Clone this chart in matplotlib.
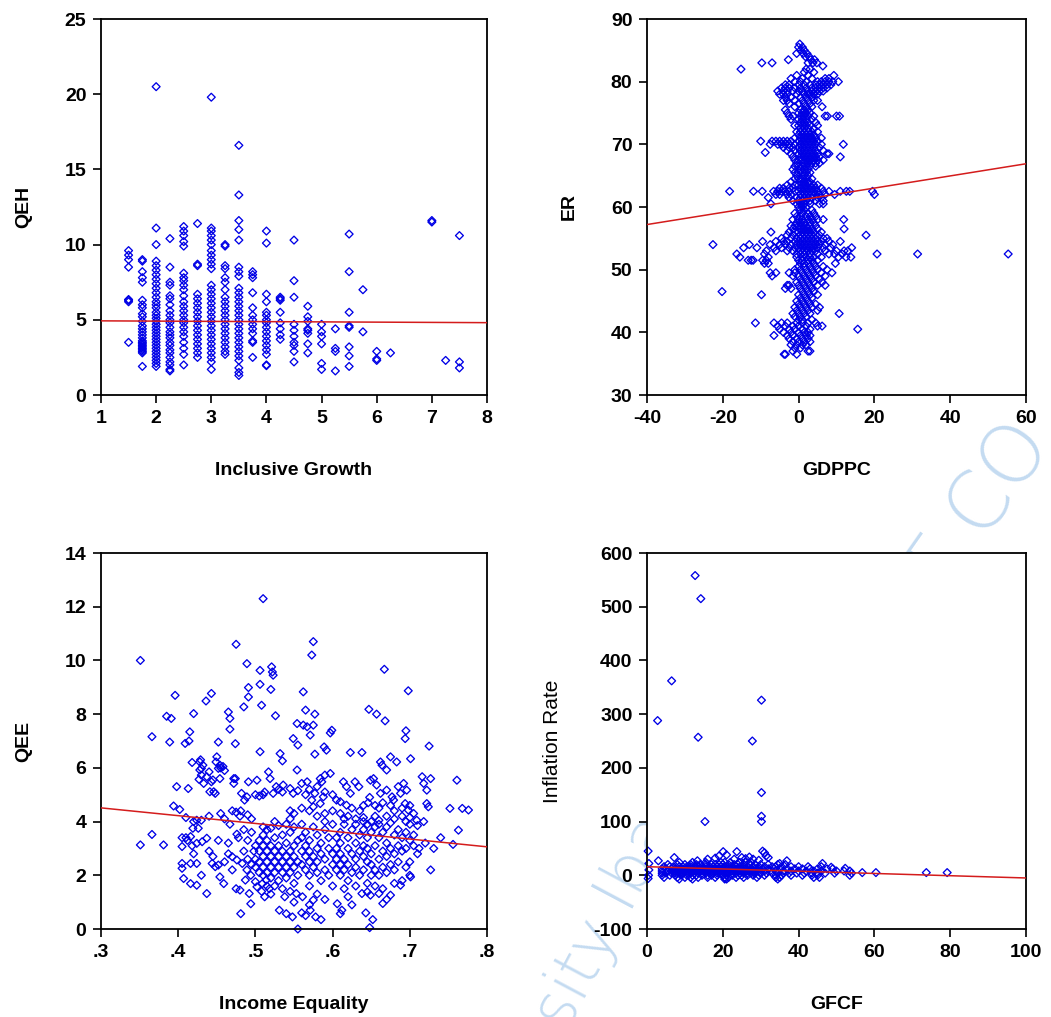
import matplotlib
matplotlib.use("Agg")
import matplotlib.pyplot as plt
from matplotlib.ticker import FuncFormatter

plt.rcParams["font.family"] = ["Liberation Sans", "DejaVu Sans"]
plt.rcParams["font.weight"] = "bold"
plt.rcParams["axes.unicode_minus"] = False

# ---- panel 1: Inclusive Growth vs QEH (values grouped by growth level) ----
ig_levels = [1.5, 1.75, 2, 2.25, 2.5, 2.75, 3, 3.25, 3.5, 3.75, 4, 4.25,
             4.5, 4.75, 5, 5.25, 5.5, 5.75, 6, 6.25, 7, 7.25, 7.5]
qeh_by_level = [
    [9.6, 9.3, 9.0, 8.5, 6.3, 6.2, 6.35, 3.5],
    [9.0, 8.9, 8.2, 7.8, 7.5, 6.3, 6.0, 5.8, 5.4, 5.2, 4.9, 4.6, 4.4, 4.2, 4.0,
     3.8, 3.6, 3.5, 3.4, 3.3, 3.2, 3.1, 3.0, 2.9, 2.8, 1.9],
    [20.5, 11.1, 10.0, 8.9, 8.6, 8.3, 8.0, 7.7, 7.4, 7.1, 6.8, 6.5, 6.2, 6.0, 5.8,
     5.5, 5.3, 5.1, 4.9, 4.7, 4.5, 4.3, 4.1, 3.9, 3.7, 3.5, 3.3, 3.1, 2.9, 2.7,
     2.5, 2.3, 2.1, 1.9],
    [10.4, 8.5, 7.5, 7.3, 6.6, 6.4, 6.0, 5.6, 5.3, 5.0, 4.8, 4.5, 4.2, 4.0, 3.8,
     3.5, 3.3, 3.0, 2.8, 2.5, 2.2, 2.0, 1.7, 1.6],
    [11.2, 10.9, 10.6, 10.2, 9.9, 8.1, 7.8, 7.6, 7.3, 7.0, 6.6, 6.2, 5.9, 5.6, 5.3,
     5.0, 4.8, 4.5, 4.2, 3.9, 3.5, 3.1, 2.7, 2.0],
    [11.4, 8.7, 8.6, 6.7, 6.4, 6.1, 5.8, 5.5, 5.2, 4.9, 4.6, 4.3, 4.0, 3.7, 3.4,
     3.1, 2.8, 2.5],
    [19.8, 11.1, 10.9, 10.6, 10.3, 10.0, 9.6, 9.3, 9.0, 8.7, 8.4, 7.3, 7.0, 6.7,
     6.4, 6.1, 5.8, 5.5, 5.2, 4.9, 4.6, 4.3, 4.0, 3.7, 3.4, 3.1, 2.8, 2.5, 2.2, 1.7],
    [10.0, 9.9, 8.6, 8.4, 7.8, 7.5, 7.0, 6.5, 6.2, 5.9, 5.6, 5.3, 5.0, 4.7, 4.4,
     4.1, 3.8, 3.5, 3.2, 2.9, 2.7],
    [16.6, 13.3, 11.6, 11.0, 10.3, 8.5, 8.2, 7.9, 7.1, 6.8, 6.5, 6.2, 5.9, 5.6,
     5.3, 5.0, 4.7, 4.4, 4.1, 3.8, 3.5, 3.2, 2.9, 2.6, 2.3, 1.8, 1.5, 1.3],
    [8.2, 8.0, 7.8, 6.8, 5.8, 5.3, 5.0, 4.7, 4.4, 4.1, 3.6, 3.5, 2.5],
    [10.9, 10.1, 6.7, 6.2, 5.5, 5.3, 5.0, 4.8, 4.5, 4.2, 3.9, 3.6, 3.3, 3.0, 2.7,
     2.0, 1.95],
    [6.5, 6.4, 6.3, 5.5, 4.8, 4.4, 4.0, 3.7],
    [10.3, 7.6, 6.5, 4.7, 4.3, 3.9, 3.5, 3.3, 2.9, 2.2],
    [5.9, 5.2, 4.9, 4.4, 4.3, 4.1, 3.4, 2.8],
    [4.7, 4.2, 3.9, 3.4, 2.1, 1.7],
    [4.4, 3.1, 2.9, 1.6],
    [10.7, 8.2, 5.5, 4.6, 4.5, 3.2, 2.6, 1.9],
    [7.0, 4.2],
    [2.9, 2.4, 2.3],
    [2.8],
    [11.6, 11.5],
    [2.3],
    [10.6, 2.2, 1.8],
]
qeh_fit_x = [1, 8]
qeh_fit_y = [4.93, 4.81]

# ---- panel 2: GDPPC vs ER (rows of GDPPC values at each ER level) ----
er_rows = [
    (86.0, [0.3]),
    (85.5, [0.0, 1.0]),
    (85.0, [0.5, 1.5]),
    (84.5, [-0.5, 1.2, 2.2]),
    (84.0, [1.8, 2.8]),
    (83.5, [-2.7, 3.2, 4.2]),
    (83.0, [-9.7, -7.0, 2.5, 3.8, 4.8]),
    (82.5, [6.4]),
    (82.0, [-15.2, 2.0, 3.0]),
    (81.5, [1.5, 4.0]),
    (81.0, [-0.5, 2.5, 9.3]),
    (80.5, [-2.0, 1.0, 3.5, 7.0, 8.0]),
    (80.0, [-1.0, 0.5, 2.0, 5.0, 6.0, 7.0, 8.0, 9.0, 10.5]),
    (79.5, [-3.5, -2.5, 0.0, 1.5, 3.0, 4.5, 5.5, 6.5, 7.5, 8.5]),
    (79.0, [-4.5, -3.5, -2.5, -1.0, 0.5, 2.0, 3.5, 4.5, 5.5, 6.5, 7.5]),
    (78.5, [-5.5, -4.0, -3.0, -1.5, 0.0, 1.0, 2.5, 3.5, 4.5, 5.5, 6.5]),
    (78.0, [-5.0, -4.0, -3.0, -0.5, 1.5, 2.5, 3.0, 4.0, 5.0]),
    (77.5, [-3.5, -2.0, 0.5, 2.0, 3.5]),
    (77.0, [-4.0, -3.0, -1.0, 1.0, 2.5, 4.0, 5.0]),
    (76.5, [-2.5, 0.0, 1.5, 3.0]),
    (76.0, [-1.0, 2.0, 3.5, 6.2]),
    (75.5, [-3.5, 0.5, 1.5, 2.5]),
    (75.0, [-3.0, 0.0, 1.0, 2.0, 3.0]),
    (74.5, [-2.5, -1.5, 0.5, 1.5, 2.5, 4.0, 7.0, 7.6, 10.0, 10.8]),
    (74.0, [-2.0, 0.0, 1.0, 2.0, 3.5]),
    (73.5, [0.5, 1.5, 2.5, 4.5]),
    (73.0, [-1.0, 0.0, 1.0, 2.0, 3.0, 5.0]),
    (72.5, [0.5, 1.5, 2.5, 4.0]),
    (72.0, [-0.5, 0.5, 1.5, 2.5, 3.5, 5.0]),
    (71.5, [0.0, 1.0, 2.0, 3.0, 4.0]),
    (71.0, [-1.0, 0.5, 1.5, 2.5, 3.5, 4.5, 6.0]),
    (70.5, [-10.0, -7.0, -6.0, -5.0, -4.0, -3.0, -2.0, 0.0, 1.0, 2.0, 3.0, 4.0, 5.0]),
    (70.0, [-7.5, -5.5, -4.5, -3.5, -2.5, -1.0, 0.5, 1.5, 2.5, 3.5, 4.5, 6.0, 11.8]),
    (69.5, [-4.0, -2.5, -1.5, 0.0, 1.0, 2.0, 3.0, 4.0, 5.5]),
    (69.0, [-3.0, -1.0, 0.5, 1.5, 2.5, 3.5, 4.5, 6.5]),
    (68.7, [-8.8]),
    (68.5, [-2.0, 0.0, 1.0, 2.0, 3.0, 4.0, 5.0, 7.5, 8.0]),
    (68.0, [-1.5, 0.5, 1.5, 2.5, 3.5, 4.5, 5.5, 11.0]),
    (67.5, [-1.0, 0.0, 1.0, 2.0, 3.0, 4.0, 5.0, 6.5]),
    (67.0, [-0.5, 1.5, 2.5, 3.5, 4.5, 5.5]),
    (66.5, [-1.0, 0.0, 1.0, 2.0, 3.0, 4.5]),
    (66.0, [-1.5, 0.5, 1.5, 2.5]),
    (65.5, [-1.0, 0.0, 1.0, 2.0, 3.0]),
    (65.0, [-0.5, 1.5, 2.5]),
    (64.5, [-1.0, 0.0, 1.0, 2.0, 3.5]),
    (64.0, [-2.0, 0.5, 1.5, 2.5, 3.0]),
    (63.5, [-3.0, -1.0, 0.0, 1.0, 2.0, 3.0, 4.0, 5.0]),
    (63.0, [-5.0, -4.0, -2.5, -1.5, 0.5, 1.5, 2.5, 3.5, 4.5, 6.0]),
    (62.5, [-18.2, -11.9, -9.6, -6.6, -5.5, -4.5, -3.5, -2.5, -1.0, 0.0, 1.0,
            2.0, 3.0, 4.0, 5.0, 6.5, 8.0, 11.0, 12.6, 13.5, 19.5]),
    (62.0, [-6.0, -5.0, -3.0, -2.0, 0.5, 1.5, 2.5, 3.5, 4.5, 5.5, 7.0, 9.5, 20.0]),
    (61.5, [-8.0, -2.5, -0.5, 0.5, 1.5, 2.5, 3.5, 5.0, 6.0]),
    (61.0, [-1.5, 0.0, 1.0, 2.0, 3.0, 4.5, 6.5]),
    (60.5, [-7.3, -0.5, 0.5, 1.5, 3.0, 5.5, 6.5]),
    (60.0, [0.0, 1.0, 2.0]),
    (59.5, [0.5, 1.5, 3.5]),
    (59.0, [-1.0, 1.0, 2.5, 4.0]),
    (58.5, [-0.5, 0.5, 2.0, 3.0, 4.5]),
    (58.0, [-1.5, 0.0, 1.0, 2.5, 3.5, 5.0, 6.5, 11.9]),
    (57.5, [-0.5, 0.5, 1.5, 3.0, 4.0]),
    (57.0, [-2.0, -1.0, 0.0, 1.0, 2.0, 3.0, 4.5]),
    (56.5, [-1.5, 0.5, 1.5, 2.5, 3.5, 5.0, 12.0]),
    (56.0, [-7.3, -2.5, -1.0, 0.0, 1.0, 2.0, 3.0, 4.0, 6.0]),
    (55.5, [-3.0, -1.5, 0.5, 1.5, 2.5, 3.5, 4.5, 5.5, 17.8]),
    (55.0, [-4.5, -2.0, -0.5, 0.5, 1.5, 2.5, 3.5, 4.5, 6.5, 7.5]),
    (54.5, [-9.5, -6.0, -4.0, -3.0, -1.0, 0.0, 1.0, 2.0, 3.0, 4.0, 5.0, 6.0, 8.0, 11.0]),
    (54.0, [-22.6, -13.0, -7.5, -5.0, -3.5, -2.0, -0.5, 0.5, 1.5, 2.5, 3.5, 4.5,
            5.5, 7.0, 9.0]),
    (53.5, [-14.5, -11.0, -6.5, -4.5, -2.5, -1.0, 0.0, 1.0, 2.0, 3.0, 4.0, 5.0,
            6.5, 8.5, 14.0]),
    (53.0, [-8.5, -6.0, -3.0, -1.5, 0.5, 1.5, 2.5, 3.5, 4.5, 7.0, 10.0, 12.0, 13.0]),
    (52.5, [-16.3, -9.0, -0.5, 0.5, 1.5, 3.0, 5.0, 8.0, 9.5, 11.5, 20.7, 31.4, 55.3]),
    (52.0, [-15.5, -8.0, -0.5, 1.0, 2.0, 3.0, 4.0, 6.0, 10.5, 12.5, 13.8]),
    (51.5, [-13.3, -12.5, -12.0, -9.5, -8.5, 0.0, 1.0, 2.5, 3.5, 5.0]),
    (51.0, [-9.0, -8.0, 0.5, 1.5, 2.5, 4.0, 9.7]),
    (50.5, [0.0, 1.5, 3.0, 4.5, 6.5]),
    (50.0, [-1.0, 0.5, 2.0, 3.5, 5.0, 7.5]),
    (49.5, [-7.5, -6.0, -2.5, -1.0, 1.0, 2.5, 4.0, 6.0, 8.8]),
    (49.0, [-7.0, -1.5, 0.0, 1.5, 3.0, 4.5, 7.0]),
    (48.5, [0.5, 2.0, 3.5, 5.5]),
    (48.0, [-0.5, 1.0, 2.5, 4.0, 6.2]),
    (47.5, [-3.0, -2.5, 0.0, 1.5, 3.0, 5.0, 7.0]),
    (47.0, [-3.5, -2.0, 0.5, 2.0, 3.5]),
    (46.5, [-20.2, 1.0, 2.5, 4.0]),
    (46.0, [-9.8, 0.0, 1.5, 3.0, 5.0]),
    (45.5, [0.5, 2.0, 3.5]),
    (45.0, [-0.5, 1.0, 2.5]),
    (44.5, [0.0, 1.5, 3.0, 4.5]),
    (44.0, [-1.0, 0.5, 2.0, 3.5, 5.5]),
    (43.5, [-0.5, 1.0, 2.5, 5.0]),
    (43.0, [-1.5, 0.0, 1.5, 3.0, 10.7]),
    (42.5, [-1.0, 0.5, 2.0]),
    (42.0, [0.0, 1.0, 3.5]),
    (41.5, [-11.4, -6.5, -4.5, -3.0, -0.5, 1.0, 2.5, 4.5]),
    (41.0, [-5.5, -3.5, -1.5, 0.0, 2.0, 5.0, 6.2]),
    (40.5, [-5.0, -2.5, -1.0, 1.0, 3.0, 15.6]),
    (40.0, [-4.0, -2.0, 0.0, 1.5, 2.5]),
    (39.5, [-6.5, -3.0, -1.5, 0.5, 2.0, 3.0]),
    (39.0, [-2.5, -0.5, 1.0, 2.5]),
    (38.5, [-1.5, 0.0, 1.5, 3.0]),
    (38.0, [-2.0, -0.5, 1.0, 2.0]),
    (37.5, [-1.0, 0.5]),
    (37.0, [-1.5, 2.5, 3.0]),
    (36.5, [-3.8, -3.5, -0.5]),
]
er_fit_x = [-40, 60]
er_fit_y = [57.2, 66.9]

# ---- panel 3: Income Equality vs QEE ----
ie_qee = [
    (.510, 12.3), (.475, 10.6), (.575, 10.7), (.573, 10.2), (.351, 10.0), (.667, 9.67),
    (.489, 9.88), (.506, 9.63), (.521, 9.76), (.522, 9.57), (.523, 9.45), (.506, 9.11),
    (.491, 8.99), (.491, 8.64), (.520, 8.92), (.698, 8.87), (.396, 8.7), (.443, 8.77),
    (.436, 8.49), (.562, 8.83), (.508, 8.33), (.485, 8.27), (.385, 7.92), (.391, 7.84),
    (.420, 8.02), (.465, 8.08), (.467, 7.84), (.526, 7.94), (.565, 8.15), (.577, 8.0),
    (.647, 8.18), (.657, 8.0), (.668, 7.75), (.366, 7.16), (.389, 6.96), (.415, 7.34),
    (.409, 6.91), (.414, 7.0), (.467, 7.44), (.474, 6.9), (.452, 6.96), (.549, 7.09),
    (.555, 6.85), (.554, 7.65), (.562, 7.59), (.567, 7.53), (.575, 7.59), (.571, 7.22),
    (.599, 7.4), (.597, 7.3), (.695, 7.38), (.694, 7.09), (.725, 6.81), (.506, 6.6),
    (.532, 6.53), (.535, 6.26), (.577, 6.51), (.589, 6.78), (.592, 6.66), (.623, 6.57),
    (.638, 6.57), (.662, 6.22), (.664, 6.1), (.675, 6.41), (.683, 6.22), (.701, 6.34),
    (.670, 5.92),
    (.418, 6.2), (.428, 6.22), (.430, 5.98), (.398, 5.30), (.413, 5.23), (.402, 4.45),
    (.394, 4.58), (.428, 5.92), (.430, 5.73), (.427, 5.57), (.433, 5.42), (.437, 5.67),
    (.432, 6.1), (.429, 6.3), (.443, 5.48), (.441, 5.11), (.446, 5.11), (.448, 5.05),
    (.450, 6.41), (.449, 6.22), (.454, 6.1), (.452, 5.98), (.454, 5.6), (.455, 6.0),
    (.458, 6.05), (.460, 5.9), (.445, 5.55), (.440, 5.85), (.472, 5.6), (.474, 5.6),
    (.472, 5.42), (.491, 5.48), (.502, 5.54), (.482, 5.05), (.489, 4.92), (.486, 4.8),
    (.517, 5.85), (.519, 5.6), (.527, 5.3), (.523, 5.05), (.536, 5.36), (.545, 5.23),
    (.549, 5.05), (.554, 5.92), (.560, 5.42), (.567, 5.48), (.577, 5.05), (.573, 4.8),
    (.584, 5.6), (.586, 5.48), (.590, 5.73), (.597, 5.79), (.588, 4.92), (.584, 4.67),
    (.614, 5.48), (.618, 5.3), (.623, 5.05), (.629, 5.48), (.634, 5.3), (.610, 4.74),
    (.618, 4.61), (.649, 5.54), (.653, 5.6), (.657, 5.36), (.662, 5.05), (.648, 4.9),
    (.655, 4.6), (.646, 4.7), (.670, 5.17), (.677, 4.92), (.679, 4.8), (.685, 5.3),
    (.688, 5.05), (.692, 5.42), (.696, 5.17), (.694, 4.67), (.698, 4.43), (.716, 5.67),
    (.718, 5.42), (.722, 5.17), (.722, 4.67), (.724, 4.55), (.727, 5.6), (.752, 4.49),
    (.761, 5.54), (.768, 4.49), (.776, 4.43), (.763, 3.68), (.731, 3.0), (.712, 3.0),
    (.727, 2.2), (.740, 3.4), (.756, 3.15), (.718, 4.0), (.709, 4.05),
    (.500, 5.0), (.505, 4.95), (.510, 5.0), (.512, 5.1), (.530, 5.2), (.535, 5.1),
    (.555, 5.15), (.565, 5.0), (.570, 5.2), (.580, 5.3), (.590, 5.1), (.600, 5.0),
    (.605, 4.8), (.625, 4.5), (.635, 4.4), (.640, 4.6), (.660, 4.5), (.665, 4.7),
    (.675, 4.6), (.680, 4.4), (.690, 4.5), (.700, 4.6), (.705, 4.3), (.470, 4.4),
    (.475, 4.35), (.480, 4.2), (.490, 4.25), (.495, 4.1), (.460, 4.1), (.455, 4.3),
    (.440, 4.2), (.430, 4.05), (.420, 4.0), (.410, 4.15), (.545, 4.4), (.550, 4.3),
    (.560, 4.5), (.570, 4.4), (.575, 4.55), (.580, 4.2), (.590, 4.3), (.600, 4.4),
    (.610, 4.3), (.615, 4.1), (.620, 4.2), (.630, 4.1), (.640, 4.15), (.650, 4.0),
    (.655, 4.2), (.660, 4.05), (.670, 4.2), (.675, 3.95), (.680, 4.1), (.690, 4.2),
    (.695, 4.0), (.700, 3.9), (.700, 4.15), (.710, 3.85),
    (.366, 3.52), (.351, 3.13), (.381, 3.13), (.416, 3.44), (.424, 3.19), (.431, 3.25),
    (.437, 3.38), (.405, 3.07), (.419, 3.75), (.426, 3.75), (.424, 4.05), (.405, 2.44),
    (.405, 2.26), (.416, 2.44), (.424, 2.44), (.407, 1.88), (.416, 1.69), (.424, 1.63),
    (.437, 1.32), (.444, 2.44), (.448, 2.32), (.452, 2.38), (.454, 1.94), (.459, 1.69),
    (.452, 3.3), (.440, 2.9), (.445, 2.7), (.430, 2.0), (.420, 2.8), (.410, 3.4),
    (.405, 3.4), (.412, 3.3), (.418, 3.1),
    (.465, 2.8), (.470, 2.69), (.476, 2.57), (.483, 2.44), (.489, 2.2), (.494, 2.0),
    (.487, 1.82), (.500, 1.76), (.476, 3.53), (.478, 3.4), (.467, 3.9), (.481, 4.4),
    (.492, 1.32), (.481, 0.57), (.494, 0.94), (.470, 2.2), (.475, 1.5), (.480, 1.45),
    (.485, 2.9), (.490, 2.6), (.495, 2.4), (.460, 2.5), (.465, 3.2), (.490, 3.3),
    (.495, 3.6), (.485, 3.7), (.498, 2.9), (.500, 3.1),
    (.502, 1.57), (.509, 1.69), (.514, 1.82), (.518, 1.5), (.531, 0.70), (.540, 0.57),
    (.548, 0.45), (.553, 1.32), (.561, 1.2),
    (.505, 2.1), (.505, 2.5), (.505, 2.9), (.505, 3.3), (.510, 2.3), (.510, 2.7),
    (.510, 3.1), (.510, 3.5), (.510, 2.0), (.515, 2.1), (.515, 2.5), (.515, 2.9),
    (.515, 3.3), (.515, 3.7), (.520, 2.3), (.520, 2.7), (.520, 3.1), (.520, 1.9),
    (.525, 2.1), (.525, 2.5), (.525, 2.9), (.525, 3.4), (.530, 2.3), (.530, 2.7),
    (.530, 3.1), (.530, 1.8), (.535, 2.5), (.535, 2.9), (.535, 2.1), (.535, 3.5),
    (.540, 2.3), (.540, 2.7), (.540, 3.2), (.540, 1.9), (.545, 2.5), (.545, 2.9),
    (.545, 2.1), (.545, 3.6), (.550, 2.3), (.550, 2.7), (.550, 3.1), (.550, 1.7),
    (.555, 2.5), (.555, 2.0), (.555, 3.3), (.500, 2.3), (.500, 2.6), (.508, 1.4),
    (.512, 1.2), (.515, 1.6), (.520, 1.3), (.525, 1.6), (.535, 1.5), (.538, 1.2),
    (.545, 1.4), (.550, 1.0), (.560, 0.6), (.565, 0.5), (.555, 0.0), (.510, 3.8),
    (.520, 3.75), (.530, 3.85), (.540, 3.9), (.550, 3.8), (.525, 4.0), (.545, 4.1),
    (.560, 3.9),
    (.560, 2.9), (.560, 2.4), (.560, 3.4), (.565, 2.2), (.565, 2.7), (.565, 3.1),
    (.565, 3.6), (.570, 2.0), (.570, 2.5), (.570, 2.9), (.570, 3.3), (.570, 1.6),
    (.575, 2.3), (.575, 2.7), (.575, 3.8), (.580, 2.1), (.580, 2.5), (.580, 3.0),
    (.580, 3.5), (.585, 1.8), (.585, 2.8), (.585, 3.2), (.590, 2.2), (.590, 2.6),
    (.590, 3.7), (.590, 4.0), (.595, 2.0), (.595, 3.0), (.595, 3.4), (.600, 2.4),
    (.600, 2.8), (.600, 3.9), (.600, 1.6), (.575, 1.08), (.571, 0.7), (.578, 0.45),
    (.580, 1.3), (.570, 0.9), (.585, 0.35), (.590, 1.1),
    (.606, 0.94), (.612, 0.70), (.610, 0.57), (.605, 2.2), (.605, 2.6), (.605, 3.0),
    (.605, 3.4), (.610, 2.0), (.610, 2.4), (.610, 2.8), (.610, 3.2), (.610, 3.6),
    (.615, 2.2), (.615, 2.6), (.615, 3.9), (.620, 1.8), (.620, 2.4), (.620, 3.0),
    (.620, 3.4), (.625, 2.1), (.625, 2.8), (.625, 3.7), (.630, 2.3), (.630, 2.6),
    (.630, 3.2), (.630, 3.9), (.635, 2.0), (.635, 2.9), (.635, 3.5), (.640, 2.2),
    (.640, 2.7), (.640, 3.1), (.640, 3.7), (.640, 4.0), (.645, 1.7), (.645, 2.5),
    (.645, 3.0), (.645, 3.4), (.645, 3.9), (.650, 2.0), (.650, 2.4), (.650, 2.8),
    (.650, 3.6), (.638, 1.32), (.645, 1.38), (.649, 1.26), (.660, 1.32), (.643, 0.60),
    (.652, 0.35), (.648, 0.05), (.620, 1.2), (.615, 1.5), (.630, 1.6), (.625, 0.9),
    (.655, 2.2), (.655, 3.1), (.655, 3.8), (.660, 2.0), (.660, 2.6), (.660, 3.4),
    (.660, 3.9), (.665, 2.3), (.665, 2.9), (.665, 3.6), (.670, 2.1), (.670, 2.7),
    (.670, 3.2), (.670, 3.8), (.675, 2.4), (.675, 3.0), (.675, 1.26), (.680, 2.2),
    (.680, 2.8), (.680, 3.5), (.680, 1.7), (.685, 3.1), (.685, 3.7), (.685, 2.5),
    (.688, 1.63), (.690, 2.9), (.690, 3.4), (.695, 2.3), (.695, 3.0), (.695, 3.6),
    (.700, 3.3), (.700, 2.5), (.701, 1.94), (.705, 3.1), (.705, 3.5), (.710, 2.8),
    (.720, 3.2), (.665, 1.5), (.670, 1.1), (.665, 0.95), (.655, 1.6), (.690, 1.8),
    (.700, 2.0),
]
qee_fit_x = [.3, .8]
qee_fit_y = [4.51, 3.06]

# ---- panel 4: GFCF vs Inflation Rate ----
infl_rows = [
    (24, [8.5, 12, 15.5, 19.5, 20.5, 22, 24.5, 26, 27.5]),
    (20, [5.5, 8, 10, 11.5, 13, 14, 15.5, 17, 18, 19, 20, 21.5, 23, 24, 25.5, 27,
          28.5, 30, 32, 34.5, 36.5]),
    (16, [4.5, 6, 7, 8.5, 9.5, 10.5, 11.5, 12.5, 13.5, 14.5, 15.5, 16.5, 17.5, 18.5,
          19.5, 20.5, 21.5, 22.5, 23.5, 24.5, 25.5, 26.5, 28, 29.5, 31, 33, 34, 35.5,
          38, 40, 42.5, 46]),
    (12, [4, 5, 6.5, 7.5, 8.5, 9.5, 10.5, 11.5, 12.5, 13.5, 14.5, 15.5, 16.5, 17.5,
          18.5, 19.5, 20.5, 21.5, 22.5, 23.5, 24.5, 25.5, 26.5, 27.5, 28.5, 29.5, 30.5,
          32, 33.5, 35, 37, 39, 41, 43, 45, 47.5, 49]),
    (8, [4, 5.5, 6.5, 7.5, 8.5, 9.5, 10.5, 11.5, 12.5, 13.5, 14.5, 15.5, 16.5, 17.5,
         18.5, 19.5, 20.5, 21.5, 22.5, 23.5, 24.5, 25.5, 26.5, 27.5, 28.5, 29.5, 31,
         32.5, 34, 36, 38, 40, 42, 44, 46, 50, 52]),
    (4, [4, 5, 6.5, 7.5, 8.5, 9.5, 10.5, 11.5, 12.5, 13.5, 14.5, 15.5, 16.5, 17.5,
         18.5, 19.5, 20.5, 21.5, 22.5, 23.5, 24.5, 25.5, 26.5, 27.5, 28.5, 30, 31.5,
         33, 34.5, 36, 37.5, 39.5, 41.5, 43.5, 45, 47, 49.5, 54]),
    (0, [4, 6, 7.5, 9, 10.5, 12, 13, 14.5, 16, 17, 18.5, 20, 21, 22.5, 24, 25, 26.5,
         28, 29.5, 31, 34, 35.5, 38, 41, 43.5, 45, 53.5]),
    (-4, [4.5, 8, 10, 11.5, 13.5, 16, 18, 20.5, 21.5, 23.5, 25.5, 29, 34, 35, 44, 45.5]),
    (-7, [8.5, 12, 20.5, 21, 34.5]),
]
gfcf_infl_extra = [
    (0.3, 45), (0.5, 22), (0.5, 10), (0.4, 0), (0.3, -6), (3, 27), (7.2, 33),
    (13.3, 27), (16, 30), (18, 32), (19, 36), (20.1, 44), (21, 38), (23.7, 44),
    (23, 30), (25, 33), (26, 31), (27, 34), (28, 30), (30.5, 45), (31, 42),
    (31.4, 36), (32, 33), (29.5, 28), (36.9, 27), (35, 22), (46.3, 22), (48.6, 15),
    (52.3, 13), (53.5, 8), (56.8, 5), (60.4, 5), (73.7, 5), (79.2, 5),
    (12.7, 558), (14.2, 515), (6.5, 362), (2.8, 288), (13.5, 257), (30.2, 326),
    (27.8, 250), (30.2, 154), (30.2, 110), (30.2, 100), (15.3, 100),
]
infl_fit_x = [0, 100]
infl_fit_y = [16, -5]

BLUE = "#0000e6"
RED = "#d41c1c"
W, H = 1051, 1017


def _axes(fig, left, top, right, bottom):
    return fig.add_axes([left / W, 1 - bottom / H, (right - left) / W, (bottom - top) / H])


def _style(ax, xlim, ylim, xticks, yticks, xlabel, ylabel, ylab_off=77.5, ylab_weight="bold"):
    ax.set_xlim(*xlim)
    ax.set_ylim(*ylim)
    ax.set_xticks(xticks)
    ax.set_yticks(yticks)
    for s in ax.spines.values():
        s.set_linewidth(1.3)
    ax.tick_params(direction="out", length=5.5, width=1.2, labelsize=14, pad=5,
                   top=False, right=False)
    bb = ax.get_position()
    ax.set_xlabel(xlabel, fontsize=14, fontweight="bold")
    ax.xaxis.set_label_coords(0.5, -67 / (bb.height * H))
    ax.set_ylabel(ylabel, fontsize=14, fontweight=ylab_weight, va="center")
    ax.yaxis.set_label_coords(-ylab_off / (bb.width * W), 0.5)


def _scatter(ax, x, y, fx, fy):
    ax.scatter(x, y, marker="D", s=16, facecolors="none", edgecolors=BLUE,
               linewidths=0.95, zorder=2, clip_on=False)
    ax.plot(fx, fy, color=RED, lw=1.1, zorder=3)


fig = plt.figure(figsize=(W / 100, H / 100), dpi=100)
fig.patch.set_facecolor("white")

# faint watermark behind the panels
wm = dict(color="#c4dbf1", fontweight="light", family="DejaVu Sans",
          rotation_mode="anchor", va="baseline", zorder=-5)
fig.text(676 / W, 1 - 828 / H, "rsity Iba", rotation=62, ha="right", fontsize=46, **wm)
fig.text(905 / W, 1 - 655 / H, "OT CO", rotation=55, ha="left", fontsize=58, **wm)

ax1 = _axes(fig, 101, 19, 487, 395)
ax2 = _axes(fig, 647, 19, 1026, 395)
ax3 = _axes(fig, 101, 553, 487, 929)
ax4 = _axes(fig, 647, 553, 1026, 929)

# panel 1
x1 = [lv for lv, ys in zip(ig_levels, qeh_by_level) for _ in ys]
y1 = [v for ys in qeh_by_level for v in ys]
_scatter(ax1, x1, y1, qeh_fit_x, qeh_fit_y)
_style(ax1, (1, 8), (0, 25), range(1, 9), range(0, 26, 5), "Inclusive Growth", "QEH")

# panel 2
x2 = [x for y, xs in er_rows for x in xs]
y2 = [y for y, xs in er_rows for _ in xs]
_scatter(ax2, x2, y2, er_fit_x, er_fit_y)
_style(ax2, (-40, 60), (30, 90), range(-40, 61, 20), range(30, 91, 10), "GDPPC", "ER")

# panel 3
x3 = [p[0] for p in ie_qee]
y3 = [p[1] for p in ie_qee]
_scatter(ax3, x3, y3, qee_fit_x, qee_fit_y)
_style(ax3, (.3, .8), (0, 14), [.3, .4, .5, .6, .7, .8], range(0, 15, 2),
       "Income Equality", "QEE")
ax3.xaxis.set_major_formatter(FuncFormatter(lambda v, p: f"{v:.1f}".lstrip("0")))

# panel 4
x4 = [x for y, xs in infl_rows for x in xs] + [p[0] for p in gfcf_infl_extra]
y4 = [y for y, xs in infl_rows for _ in xs] + [p[1] for p in gfcf_infl_extra]
_scatter(ax4, x4, y4, infl_fit_x, infl_fit_y)
_style(ax4, (0, 100), (-100, 600), range(0, 101, 20), range(-100, 601, 100),
       "GFCF", "Inflation Rate", ylab_off=95, ylab_weight="normal")
ax4.yaxis.label.set_fontsize(15)

fig.savefig("out.png", dpi=100, facecolor="white")
